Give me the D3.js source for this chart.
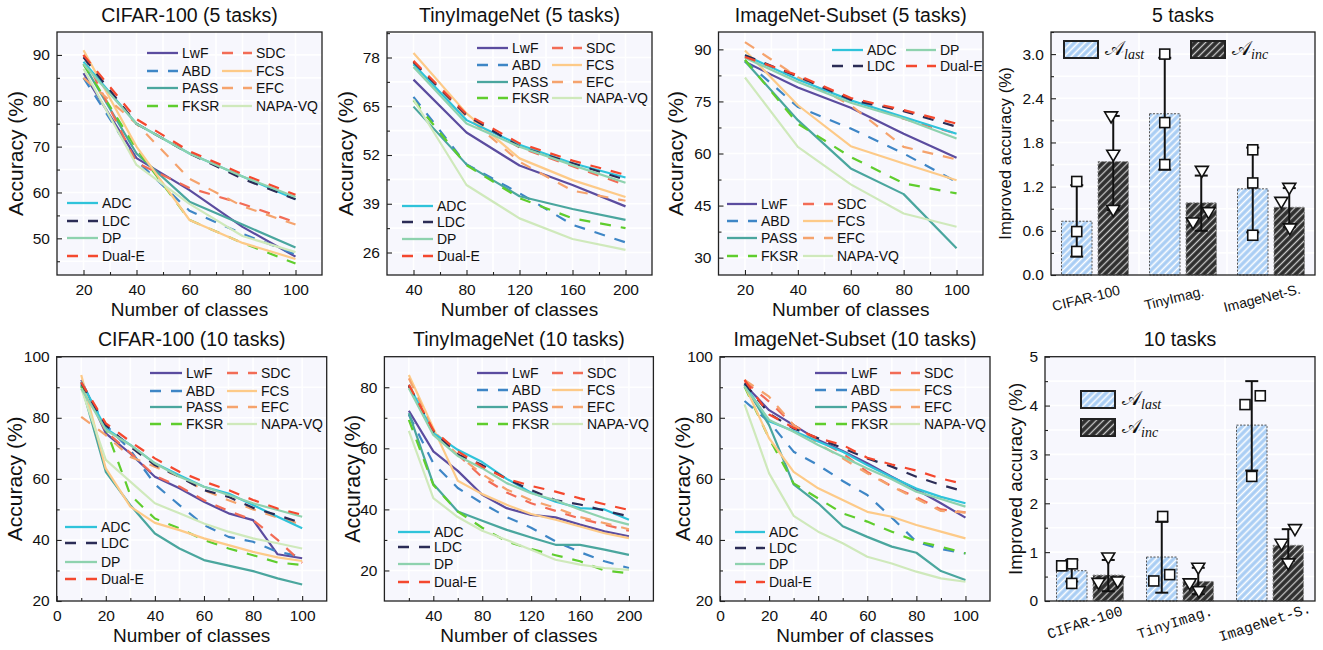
<!DOCTYPE html>
<html><head><meta charset="utf-8">
<script src="https://cdn.jsdelivr.net/npm/d3@7"></script>
<style>body{margin:0;background:#fff}svg{display:block}</style>
</head><body><svg id="c" width="1323" height="650"></svg>
<script>
// ---------------- DATA ----------------
const seriesNames = ["LwF","ABD","PASS","FKSR","SDC","FCS","EFC","NAPA-VQ","ADC","LDC","DP","Dual-E"];

// CIFAR-100 (5 tasks)
const xCifar5 = [20,40,60,80,100];
const cifar5 = [
  [86,67.5,60.5,52.5,46],
  [85,67,56,51,46.5],
  [88,68.5,58,53,48],
  [88,69.5,54,49,44.5],
  [90,66.5,61,57.5,53.5],
  [91,70,54,49,45.5],
  [85,75,63,57,53],
  [87,66,57.5,50.5,47],
  [88.5,75,68.5,63.5,58.5],
  [89.5,75,68.5,63,58.5],
  [88,75,68.5,63.5,59],
  [90,76,69,64,59.5]
];
// TinyImageNet (5 tasks)
const xTiny5 = [40,80,120,160,200];
const tiny5 = [
  [72.1,58,49.2,44,38.3],
  [67.5,49.5,41.8,33.4,28.7],
  [64.9,49.5,41,37.6,34.7],
  [66.6,49.3,40.5,35.1,32.5],
  [76.8,62.5,54,49,44],
  [79.2,63.1,51.1,45.3,40.8],
  [76.6,62.3,50.2,42.5,39.8],
  [66.8,44,35.1,29.6,26.7],
  [76.2,61.3,54.7,49.8,46],
  [76.8,62.6,54.2,49.8,45.4],
  [75.5,60.4,54.2,49.3,44.6],
  [77.1,62.9,55.1,50.5,46.7]
];
// ImageNet-Subset (5 tasks)
const xInet5 = [20,40,60,80,100];
const inet5 = [
  [86.4,79,73.2,65.7,58.8],
  [86.8,73.4,67.2,60,51.8],
  [86.6,69.6,55.7,48.3,32.7],
  [87,68.6,59,51.4,48.5],
  [87.8,82.2,75.8,70,65.7],
  [89.7,73.9,62.1,57.1,52.3],
  [92.1,82,73.9,61.9,58.3],
  [81.9,61.9,51.1,42.7,38.9],
  [88.3,81.3,75.3,70.5,65.7],
  [88.3,82.2,75.5,72.2,67.7],
  [87.6,80.6,74.6,70.1,64.3],
  [87.8,82.5,76,72.5,68.6]
];
// CIFAR-100 (10 tasks)
const xCifar10 = [10,20,30,40,50,60,70,80,90,100];
const cifar10 = [
  [92.4,74.9,68.3,60.7,56.9,52.5,48.7,46.5,35.3,34],
  [90.5,77.6,69.4,58.2,51.4,44.9,41,39.4,36.1,34.5],
  [90.9,62.3,51.4,42.1,37.2,33.4,31.6,29.8,27.4,25.4],
  [90.2,76.5,54.7,47,43.8,40,37.2,35,32.6,31.8],
  [91.8,75.5,68.5,61,57.5,53,49.5,46.5,40,32.5],
  [94,63.4,50.9,45.6,43.2,40.5,38.3,36.1,34.3,33.1],
  [80.3,74.3,67.2,64,60.7,56.3,53,50,47.3,45],
  [89.6,66.2,59.1,52,48.7,45.4,42.7,40.5,38.9,37.2],
  [91.8,76.5,71.1,65.1,61.2,57.4,55.2,51.4,47.6,43.8],
  [91.3,77.6,70.5,64.5,60.7,56.3,54.1,50.5,48.1,45.5],
  [89.6,76,71.1,65.1,60.7,57.4,54.7,52,49.8,47.6],
  [91.6,78.2,72.2,66.7,62.3,59.1,56.3,53.1,50.3,48.2]
];
// TinyImageNet (10 tasks)
const xTiny10 = [20,40,60,80,100,120,140,160,180,200];
const tiny10 = [
  [72.3,59,52.6,44.8,40.4,38.2,37.4,35,32.8,31.2],
  [71,55.1,47,42,37.5,34,29.5,26,23,20.8],
  [71.5,48.3,39.3,36.3,33.3,30.8,28.4,28.4,26.8,25.1],
  [69.3,48,39.3,34,29.5,27,25,23,20,19.1],
  [80.4,65.5,58,50.5,45.5,42,39.5,37,35,33],
  [84,66.6,49.4,45,41.5,38.5,36.6,34.4,32.2,30.6],
  [82.9,65.7,57.9,51.5,46.5,43,40.5,37.5,35.5,33.5],
  [65.7,43.7,37.5,33,30,26.8,23.5,21.9,20.8,20.2],
  [80.8,65,59.5,55.5,50,45.5,42.5,40.4,40,36.6],
  [80.4,65.5,58,54.5,50,46.3,43,41.6,39.6,37.7],
  [79.7,64.4,57.5,53.5,48.6,45.3,43,39.9,37.1,35],
  [80.8,66,59,54,50,47.7,45.8,43.6,41.7,39.8]
];
// ImageNet-Subset (10 tasks)
const xInet10 = [10,20,30,40,50,60,70,80,90,100];
const inet10 = [
  [90.9,82.5,77.6,72.7,69.1,65.1,60.7,56.5,52,47.3],
  [85.5,78.7,68.9,64.5,59.3,54.7,47.3,39.4,37,35.6],
  [90.7,77.6,58.2,52,44.5,41,37.8,35.8,29.8,26.9],
  [90.2,73.3,58.5,53.6,48.7,46,42.7,39.6,37.8,35.6],
  [92,85.3,77.6,72.7,68.3,62.3,57.5,54,50,49],
  [90.7,73.3,62.3,56.9,53.1,49.2,47.6,44.9,42.7,40.5],
  [92.4,86.9,77.6,71.6,66.7,61.8,57.5,53.5,49.5,49],
  [84.4,61.8,47.9,42.7,38.9,34.5,32.3,29.6,27.4,26.3],
  [90.9,78.9,75.7,72.2,68.9,64.5,60.5,56.8,54.1,52],
  [91.3,81.4,76.5,73.3,70,66.7,64,60.7,58,55.8],
  [90.2,79.3,75.4,71.1,67.2,63.4,59.9,55.8,53.4,50.9],
  [92.4,81.1,76.7,73.3,71.1,66.9,64.7,62.7,60.1,58.2]
];

// Improved accuracy bars
const barGroups = ["CIFAR-100","TinyImag.","ImageNet-S."];
const t5Last = [0.73,2.19,1.17];
const t5Inc = [1.54,0.98,0.92];
const t5LastErr = [[0.25,1.22],[1.43,2.95],[0.58,1.73]];
const t5IncErr = [[0.88,2.16],[0.6,1.35],[0.65,1.18]];
const t5LastPts = [[1.27,0.59,0.32],[3.0,2.07,1.5],[1.7,1.25,0.54]];
const t5IncPts = [[2.14,1.62,0.87],[1.4,0.84,0.7],[1.17,0.98,0.62]];
const t10Last = [0.62,0.9,3.6];
const t10Inc = [0.53,0.4,1.14];
const t10LastErr = [[0.4,0.84],[0.17,1.62],[2.67,4.5]];
const t10IncErr = [[0.2,0.84],[0.14,0.68],[0.82,1.47]];
const t10LastPts = [[0.72,0.76,0.36],[1.73,0.41,0.54],[4.02,4.2,2.55]];
const t10IncPts = [[0.87,0.35,0.38],[0.66,0.34,0.18],[1.45,1.15,0.75]];

// ---------------- STYLE ----------------
const FONT = '"Liberation Sans", Arial, Helvetica, sans-serif';
const styles = {
  "LwF":{c:"#5b4c9f",d:null}, "ABD":{c:"#3e86c6",d:"11,10"}, "PASS":{c:"#4aa69e",d:null},
  "FKSR":{c:"#5fcd2d",d:"11,10"}, "SDC":{c:"#f26c56",d:"11,10"}, "FCS":{c:"#fdca88",d:null},
  "EFC":{c:"#f5a36d",d:"11,10"}, "NAPA-VQ":{c:"#cfe9bb",d:null}, "ADC":{c:"#2fc3da",d:null},
  "LDC":{c:"#2b2c56",d:"11,10"}, "DP":{c:"#8ed2ae",d:null}, "Dual-E":{c:"#f4482e",d:"11,10"}
};
// jitter of scatter points (fraction of bar width)
const jit5Last = [[0,0,0],[0,0,0],[0,0,0]];
const jit5Inc = [[-0.07,0,0],[0.02,0.24,-0.27],[0,-0.26,0.02]];
const jit10Last = [[-0.33,0.02,0],[0.03,-0.26,0.26],[-0.22,0.28,0]];
const jit10Inc = [[0,-0.32,0.31],[0,-0.28,0.02],[0.22,-0.22,0]];

const svg = d3.select("#c");
const BG = "#f7f7fd";
const defs = svg.append("defs");
function hatch(id, bg, fg, w){
  const p = defs.append("pattern").attr("id",id).attr("patternUnits","userSpaceOnUse")
    .attr("width",5).attr("height",5).attr("patternTransform","rotate(45)");
  p.append("rect").attr("width",5).attr("height",5).attr("fill",bg);
  p.append("line").attr("x1",2.5).attr("x2",2.5).attr("y1",0).attr("y2",5).attr("stroke",fg).attr("stroke-width",w);
}
hatch("hLast","#a9cdf4","#ffffff",1.6);
hatch("hInc","#2e2e2e","#c9c9c9",1.3);

function styleAxis(sel, size){
  sel.select(".domain").remove();
  sel.selectAll(".tick line").attr("stroke","#222").attr("stroke-width",1.1);
  sel.selectAll("text").attr("font-family",FONT).attr("font-size",size).attr("fill","#111");
}

function frameAndLabels(g, cfg){
  g.append("rect").attr("x",cfg.left).attr("y",cfg.top).attr("width",cfg.w).attr("height",cfg.h)
    .attr("fill","none").attr("stroke","#222").attr("stroke-width",1.3);
  g.append("text").attr("x",cfg.left+cfg.w/2).attr("y",cfg.titleY).attr("text-anchor","middle")
    .attr("font-family",FONT).attr("font-size",19.5).attr("fill","#111").text(cfg.title);
  if(cfg.xLabel) g.append("text").attr("x",cfg.left+cfg.w/2).attr("y",cfg.xLabelY).attr("text-anchor","middle")
    .attr("font-family",FONT).attr("font-size",19).attr("fill","#111").text(cfg.xLabel);
  const cx = cfg.left+cfg.yLabelDx, cy = cfg.top+cfg.h/2;
  g.append("text").attr("transform",`translate(${cx},${cy}) rotate(-90)`).attr("text-anchor","middle")
    .attr("dominant-baseline","central").attr("font-family",FONT).attr("font-size",cfg.yLabelSize).attr("fill","#111").text(cfg.yLabel);
}

function drawLegend(g, leg){
  leg.rows.forEach((row,ri)=>{
    row.forEach((name,ci)=>{
      if(!name) return;
      const s = styles[name], yy = leg.ys[ri], xx = leg.cols[ci];
      g.append("line").attr("x1",xx[0]).attr("x2",xx[1]).attr("y1",yy).attr("y2",yy)
        .attr("stroke",s.c).attr("stroke-width",2.3).attr("stroke-dasharray",s.d);
      g.append("text").attr("x",xx[1]+4).attr("y",yy).attr("dominant-baseline","central")
        .attr("font-family",FONT).attr("font-size",14).attr("fill","#111").text(name);
    });
  });
}

function drawLinePanel(cfg){
  const g = svg.append("g");
  const x = d3.scaleLinear().domain(cfg.xDomain).range([cfg.left, cfg.left+cfg.w]);
  const y = d3.scaleLinear().domain(cfg.yDomain).range([cfg.top+cfg.h, cfg.top]);
  g.append("rect").attr("x",cfg.left).attr("y",cfg.top).attr("width",cfg.w).attr("height",cfg.h).attr("fill",BG);
  const inX = v=>v>cfg.xDomain[0]&&v<cfg.xDomain[1], inY = v=>v>cfg.yDomain[0]&&v<cfg.yDomain[1];
  const xg = cfg.xTicks.concat(cfg.xMinor).filter(inX), yg = cfg.yTicks.concat(cfg.yMinor).filter(inY);
  g.selectAll(null).data(xg).join("line").attr("x1",d=>x(d)).attr("x2",d=>x(d))
    .attr("y1",cfg.top).attr("y2",cfg.top+cfg.h).attr("stroke","#fff").attr("stroke-width",1.6);
  g.selectAll(null).data(yg).join("line").attr("y1",d=>y(d)).attr("y2",d=>y(d))
    .attr("x1",cfg.left).attr("x2",cfg.left+cfg.w).attr("stroke","#fff").attr("stroke-width",1.6);
  const line = d3.line().x(d=>x(d[0])).y(d=>y(d[1]));
  cfg.data.forEach((vals,i)=>{
    const s = styles[seriesNames[i]];
    g.append("path").attr("d",line(vals.map((v,j)=>[cfg.xs[j],v]))).attr("fill","none")
      .attr("stroke",s.c).attr("stroke-width",2.2).attr("stroke-dasharray",s.d)
      .attr("stroke-linejoin","round");
  });
  const bx = g.append("g").attr("transform",`translate(0,${cfg.top+cfg.h})`)
    .call(d3.axisBottom(x).tickValues(cfg.xTicks).tickSize(-5).tickPadding(8.5).tickFormat(d3.format("d")));
  styleAxis(bx,15.5);
  const bxm = g.append("g").attr("transform",`translate(0,${cfg.top+cfg.h})`)
    .call(d3.axisBottom(x).tickValues(cfg.xMinor.filter(inX)).tickSize(-3).tickFormat(""));
  styleAxis(bxm,15.5);
  const ly = g.append("g").attr("transform",`translate(${cfg.left},0)`)
    .call(d3.axisLeft(y).tickValues(cfg.yTicks).tickSize(-5).tickPadding(7).tickFormat(d3.format("d")));
  styleAxis(ly,15.5);
  const lym = g.append("g").attr("transform",`translate(${cfg.left},0)`)
    .call(d3.axisLeft(y).tickValues(cfg.yMinor.filter(inY)).tickSize(-3).tickFormat(""));
  styleAxis(lym,15.5);
  frameAndLabels(g,cfg);
  cfg.legends.forEach(l=>drawLegend(g,l));
}

function drawBarPanel(cfg){
  const g = svg.append("g");
  const x = d3.scaleBand().domain(barGroups).range([cfg.left, cfg.left+cfg.w]).padding(0);
  const y = d3.scaleLinear().domain(cfg.yDomain).range([cfg.top+cfg.h, cfg.top]);
  g.append("rect").attr("x",cfg.left).attr("y",cfg.top).attr("width",cfg.w).attr("height",cfg.h).attr("fill",BG);
  const yg = cfg.yTicks.concat(cfg.yMinor).filter(v=>v>cfg.yDomain[0]&&v<cfg.yDomain[1]);
  g.selectAll(null).data(yg).join("line").attr("y1",d=>y(d)).attr("y2",d=>y(d))
    .attr("x1",cfg.left).attr("x2",cfg.left+cfg.w).attr("stroke","#fff").attr("stroke-width",1.6);
  g.selectAll(null).data(barGroups.slice(1)).join("line").attr("x1",d=>x(d)).attr("x2",d=>x(d))
    .attr("y1",cfg.top).attr("y2",cfg.top+cfg.h).attr("stroke","#fff").attr("stroke-width",1.6);
  const bw = 30.5, gap = 6;
  const series = [
    {vals:cfg.last, err:cfg.lastErr, pts:cfg.lastPts, jit:cfg.lastJit, fill:"url(#hLast)", stroke:"#555", off:-gap/2-bw, mk:"sq"},
    {vals:cfg.inc, err:cfg.incErr, pts:cfg.incPts, jit:cfg.incJit, fill:"url(#hInc)", stroke:"#888", off:gap/2, mk:"tri"}
  ];
  series.forEach(s=>{
    g.selectAll(null).data(barGroups).join("rect")
      .attr("x",d=>x(d)+x.bandwidth()/2+s.off).attr("width",bw)
      .attr("y",(d,i)=>y(s.vals[i])).attr("height",(d,i)=>y(0)-y(s.vals[i]))
      .attr("fill",s.fill).attr("stroke",s.stroke).attr("stroke-width",1).attr("stroke-dasharray","2,1.5");
  });
  series.forEach(s=>{
    barGroups.forEach((d,i)=>{
      const cx = x(d)+x.bandwidth()/2+s.off+bw/2;
      const [lo,hi] = s.err[i];
      g.append("line").attr("x1",cx).attr("x2",cx).attr("y1",y(lo)).attr("y2",y(hi)).attr("stroke","#111").attr("stroke-width",2);
      [lo,hi].forEach(v=>g.append("line").attr("x1",cx-6.5).attr("x2",cx+6.5).attr("y1",y(v)).attr("y2",y(v))
        .attr("stroke","#111").attr("stroke-width",2));
      s.pts[i].forEach((v,k)=>{
        const px = cx + s.jit[i][k]*bw, py = y(v);
        if(s.mk==="sq") g.append("rect").attr("x",px-5).attr("y",py-5).attr("width",10).attr("height",10)
          .attr("fill","#fff").attr("stroke","#111").attr("stroke-width",1.6);
        else g.append("path").attr("d",`M${px-6.5},${py-5.5}L${px+6.5},${py-5.5}L${px},${py+5.5}Z`)
          .attr("fill","#fff").attr("stroke","#111").attr("stroke-width",1.6).attr("stroke-linejoin","miter");
      });
    });
  });
  const ly = g.append("g").attr("transform",`translate(${cfg.left},0)`)
    .call(d3.axisLeft(y).tickValues(cfg.yTicks).tickSize(-5).tickPadding(7).tickFormat(cfg.fmt));
  styleAxis(ly,15.5);
  const lym = g.append("g").attr("transform",`translate(${cfg.left},0)`)
    .call(d3.axisLeft(y).tickValues(cfg.yMinor).tickSize(-3).tickFormat(""));
  styleAxis(lym,15.5);
  barGroups.forEach(d=>{
    const cx = x(d)+x.bandwidth()/2+cfg.lblDx;
    g.append("text").attr("transform",`translate(${cx},${cfg.lblY}) rotate(${cfg.lblRot})`)
      .attr("text-anchor","middle").attr("dominant-baseline","central")
      .attr("font-family",cfg.lblFont).attr("font-size",cfg.lblSize).attr("fill","#111").text(d);
  });
  frameAndLabels(g,cfg);
  // legend
  const items = [{fill:"url(#hLast)",sub:"last"},{fill:"url(#hInc)",sub:"inc"}];
  items.forEach((it,k)=>{
    const p = cfg.leg[k];
    g.append("rect").attr("x",p[0]).attr("y",p[1]).attr("width",34).attr("height",17)
      .attr("fill",it.fill).attr("stroke","#222").attr("stroke-width",2);
    const t = g.append("text").attr("x",p[0]+41).attr("y",p[1]+14).attr("fill","#111");
    t.append("tspan").attr("font-family",'"DejaVu Serif", serif').attr("font-size",20).text("𝒜");
    t.append("tspan").attr("font-family",'"Liberation Serif", serif').attr("font-style","italic")
      .attr("font-size",14).attr("dy",4).text(it.sub);
  });
}

// ---------------- PANELS ----------------
const cifTop = [["LwF","SDC"],["ABD","FCS"],["PASS","EFC"],["FKSR","NAPA-VQ"]];
const ours = [["ADC"],["LDC"],["DP"],["Dual-E"]];
const range = (a,b,s)=>d3.range(a,b+s/2,s);

drawLinePanel({left:57,top:32,w:265,h:243,xDomain:[10,110],yDomain:[42,95],
  xTicks:range(20,100,20),xMinor:range(10,110,20),yTicks:range(50,90,10),yMinor:range(45,95,10),
  xs:xCifar5,data:cifar5,title:"CIFAR-100 (5 tasks)",titleY:22,xLabel:"Number of classes",xLabelY:316,
  yLabel:"Accuracy (%)",yLabelDx:-42,yLabelSize:21,
  legends:[{cols:[[147,178],[222,252]],ys:[53,71,88,106],rows:cifTop},
           {cols:[[67,98]],ys:[203,221,238,256],rows:ours}]});

drawLinePanel({left:387,top:32,w:265,h:243,xDomain:[20,220],yDomain:[20,84.8],
  xTicks:range(40,200,40),xMinor:range(20,220,40),yTicks:range(26,78,13),yMinor:range(32.5,84.5,13),
  xs:xTiny5,data:tiny5,title:"TinyImageNet (5 tasks)",titleY:22,xLabel:"Number of classes",xLabelY:316,
  yLabel:"Accuracy (%)",yLabelDx:-42,yLabelSize:21,
  legends:[{cols:[[477,508],[552,582]],ys:[48,65,82,98],rows:cifTop},
           {cols:[[402,433]],ys:[206,222,239,256],rows:ours}]});

drawLinePanel({left:718.5,top:32,w:264.5,h:243,xDomain:[10,110],yDomain:[25,95],
  xTicks:range(20,100,20),xMinor:range(10,110,20),yTicks:range(30,90,15),yMinor:range(37.5,90,15),
  xs:xInet5,data:inet5,title:"ImageNet-Subset (5 tasks)",titleY:22,xLabel:"Number of classes",xLabelY:316,
  yLabel:"Accuracy (%)",yLabelDx:-43,yLabelSize:21,
  legends:[{cols:[[832,863],[906,936]],ys:[50,66],rows:[["ADC","DP"],["LDC","Dual-E"]]},
           {cols:[[727,757],[803,833]],ys:[204,221,238,256],rows:cifTop}]});

drawBarPanel({left:1051,top:32,w:264,h:243,yDomain:[0,3.3],yTicks:range(0,3.0,0.6),yMinor:range(0.3,3.3,0.6),
  fmt:d3.format(".1f"),last:t5Last,inc:t5Inc,lastErr:t5LastErr,incErr:t5IncErr,lastPts:t5LastPts,incPts:t5IncPts,
  lastJit:jit5Last,incJit:jit5Inc,title:"5 tasks",titleY:22,yLabel:"Improved accuracy (%)",yLabelDx:-46,yLabelSize:16.8,
  lblDx:-9,lblY:298,lblRot:-14,lblFont:FONT,lblSize:14,leg:[[1064,41],[1191,41]]});

drawLinePanel({left:56.7,top:356.7,w:270,h:244.3,xDomain:[0,110],yDomain:[20,100],
  xTicks:range(0,100,20),xMinor:range(10,110,20),yTicks:range(20,100,20),yMinor:range(30,90,20),
  xs:xCifar10,data:cifar10,title:"CIFAR-100 (10 tasks)",titleY:346,xLabel:"Number of classes",xLabelY:642,
  yLabel:"Accuracy (%)",yLabelDx:-42,yLabelSize:21,
  legends:[{cols:[[150,182],[227,257]],ys:[373,391,407,424],rows:cifTop},
           {cols:[[65,97]],ys:[527,543,562,579],rows:ours}]});

drawLinePanel({left:384.4,top:356.7,w:269,h:244.3,xDomain:[0,220],yDomain:[10,90],
  xTicks:range(40,200,40),xMinor:range(20,220,40),yTicks:range(20,80,20),yMinor:range(30,90,20),
  xs:xTiny10,data:tiny10,title:"TinyImageNet (10 tasks)",titleY:346,xLabel:"Number of classes",xLabelY:642,
  yLabel:"Accuracy (%)",yLabelDx:-31,yLabelSize:21.5,
  legends:[{cols:[[477,508],[552,583]],ys:[373,390,407,424],rows:cifTop},
           {cols:[[398,430]],ys:[532,547,564,582],rows:ours}]});

drawLinePanel({left:720,top:356.7,w:270,h:244.3,xDomain:[0,110],yDomain:[20,100],
  xTicks:range(0,100,20),xMinor:range(10,110,20),yTicks:range(20,100,20),yMinor:range(30,90,20),
  xs:xInet10,data:inet10,title:"ImageNet-Subset (10 tasks)",titleY:346,xLabel:"Number of classes",xLabelY:642,
  yLabel:"Accuracy (%)",yLabelDx:-38,yLabelSize:21,
  legends:[{cols:[[815,847],[890,920]],ys:[373,390,407,424],rows:cifTop},
           {cols:[[735,765]],ys:[532,548,564,582],rows:ours}]});

drawBarPanel({left:1045,top:356.7,w:270,h:244.3,yDomain:[0,5],yTicks:range(0,5,1),yMinor:range(0.5,4.5,1),
  fmt:d3.format("d"),last:t10Last,inc:t10Inc,lastErr:t10LastErr,incErr:t10IncErr,lastPts:t10LastPts,incPts:t10IncPts,
  lastJit:jit10Last,incJit:jit10Inc,title:"10 tasks",titleY:346,yLabel:"Improved accuracy (%)",yLabelDx:-30,yLabelSize:18.7,
  lblDx:-5,lblY:623,lblRot:-18,lblFont:'"Liberation Mono", "DejaVu Sans Mono", monospace',lblSize:14.5,
  leg:[[1081,391],[1081,419]]});
</script></body></html>
